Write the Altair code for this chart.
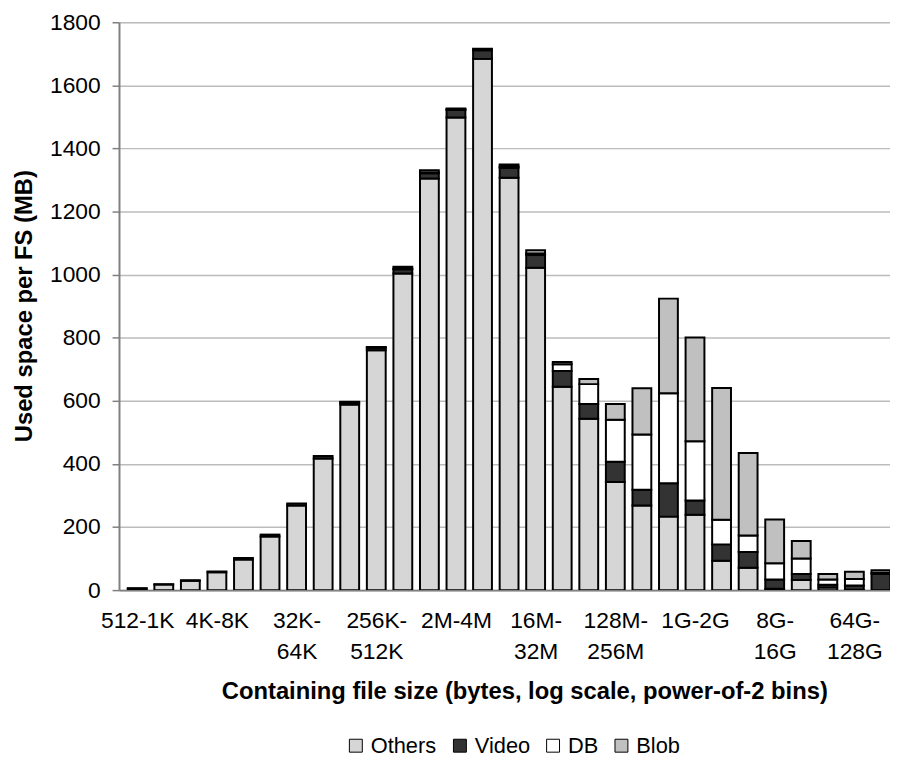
import altair as alt
import pandas as pd
import json

bins = ["512-1K", "1K-2K", "2K-4K", "4K-8K", "8K-16K", "16K-32K", "32K-64K",
        "64K-128K", "128K-256K", "256K-512K", "512K-1M", "1M-2M", "2M-4M",
        "4M-8M", "8M-16M", "16M-32M", "32M-64M", "64M-128M", "128M-256M",
        "256M-512M", "512M-1G", "1G-2G", "2G-4G", "4G-8G", "8G-16G",
        "16G-32G", "32G-64G", "64G-128G", "128G-256G"]

others = [5, 18, 30, 57, 97, 170, 268, 417, 588, 760, 1004, 1305, 1498, 1684,
          1307, 1022, 645, 543, 343, 268, 233, 239, 93, 71, 4, 32, 8, 1, 0]
video = [1, 1, 1, 2, 5, 6, 7, 8, 6, 8, 13, 16, 24, 27, 32, 40, 50, 47, 64, 50,
         106, 45, 52, 50, 30, 19, 9, 14, 52]
db = [0, 0, 0, 0, 0, 0, 0, 0, 1, 1, 2, 3, 2, 2, 4, 5, 21, 63, 133, 175, 285,
      188, 78, 52, 51, 49, 17, 20, 3]
blob = [0, 0, 0, 0, 0, 0, 0, 0, 2, 2, 6, 7, 3, 3, 6, 10, 7, 16, 50, 147, 300,
        329, 418, 262, 139, 56, 17, 23, 8]

series_names = ["Others", "Video", "DB", "Blob"]
series_colors = ["#d6d6d6", "#333333", "#ffffff", "#c0c0c0"]

tick_positions = [0, 3, 6, 9, 12, 15, 18, 21, 24, 27]
tick_labels = [["512-1K"], ["4K-8K"], ["32K-", "64K"], ["256K-", "512K"],
               ["2M-4M"], ["16M-", "32M"], ["128M-", "256M"], ["1G-2G"],
               ["8G-", "16G"], ["64G-", "128G"]]

rows = []
for name, vals in zip(series_names, [others, video, db, blob]):
    for i, v in enumerate(vals):
        if v > 0:
            rows.append({"idx": i, "bin": bins[i], "series": name,
                         "ord": series_names.index(name), "value": v})
df = pd.DataFrame(rows)

expr = ""
for p, lab in zip(tick_positions, tick_labels):
    expr += f"datum.value == {p} ? {json.dumps(lab)} : "
expr += "''"

FONT = "Liberation Sans"

chart = alt.Chart(df).mark_bar(
    size=19, stroke="black", strokeWidth=2, clip=True
).encode(
    x=alt.X("idx:Q",
            scale=alt.Scale(domain=[-0.5, 28.155], nice=False, zero=False),
            axis=alt.Axis(values=tick_positions, labelExpr=expr, grid=False,
                          ticks=False, labelFontSize=23, labelFont=FONT,
                          labelColor="black", labelPadding=20,
                          labelLineHeight=31, labelFlush=False,
                          labelOverlap=False,
                          domainColor="#808080", domainWidth=2,
                          title="Containing file size (bytes, log scale, power-of-2 bins)",
                          titleFont=FONT, titleFontSize=24, titleFontWeight="bold",
                          titleColor="black", titleX=409, titleY=90,
                          titleBaseline="top")),
    y=alt.Y("value:Q", stack="zero",
            scale=alt.Scale(domain=[0, 1800], nice=False),
            axis=alt.Axis(values=list(range(0, 1801, 200)), format="d", grid=True,
                          gridColor="#bcbcbc", gridWidth=1.5,
                          tickColor="#808080", tickSize=7, tickWidth=1.5,
                          domainColor="#808080", domainWidth=2,
                          labelFontSize=23, labelFont=FONT, labelColor="black",
                          labelPadding=12,
                          title="Used space per FS (MB)",
                          titleFont=FONT, titleFontSize=24, titleFontWeight="bold",
                          titleColor="black", titleAngle=270, titleX=-95,
                          titleY=286, titleBaseline="middle", titleAlign="center")),
    color=alt.Color("series:N",
                    scale=alt.Scale(domain=series_names, range=series_colors),
                    legend=alt.Legend(title=None, orient="none", direction="horizontal",
                                      legendX=228, legendY=719,
                                      symbolType="square", symbolSize=170,
                                      symbolStrokeColor="black", symbolStrokeWidth=1,
                                      symbolOpacity=1,
                                      labelFont=FONT, labelFontSize=22,
                                      labelColor="black", labelOffset=4,
                                      columnPadding=12)),
    order=alt.Order("ord:Q", sort="ascending"),
    tooltip=["bin:N", "series:N", "value:Q"]
).properties(
    width=778, height=573,
    padding={"left": 112, "top": 11, "right": 0, "bottom": 166},
    autosize=alt.AutoSizeParams(type="none")
).configure_view(stroke=None).configure(background="white")

chart.save("out.html", embed_options={"renderer": "svg", "actions": False})
